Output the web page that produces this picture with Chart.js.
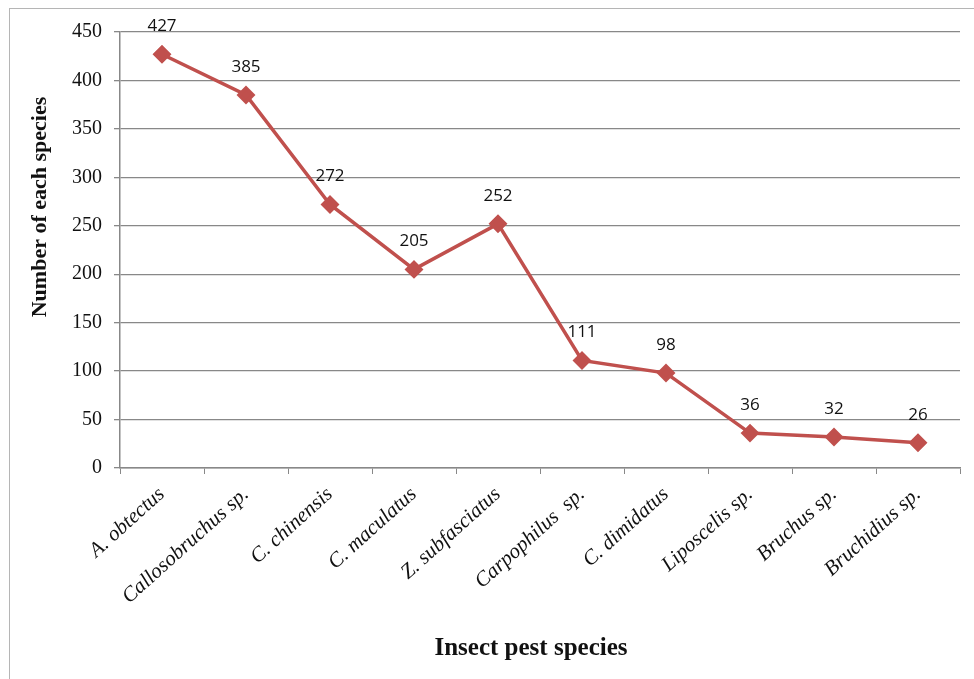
<!DOCTYPE html>
<html>
<head>
<meta charset="utf-8">
<script src="https://cdn.jsdelivr.net/npm/chart.js@4"></script>
<style>
    body { margin: 0; background: #fff; overflow: hidden; }
    .wrap { position: relative; width: 974px; height: 679px; }
    .frame { position: absolute; left: 9px; top: 8px; width: 980px; height: 700px; border: 1px solid #b5b5b5; }
    canvas { position: absolute; left: 0; top: 0; }
</style>
</head>
<body>
<div class="wrap">
    <div class="frame"></div>
    <canvas id="graph" width="974" height="679"></canvas>
</div>
<script>
// data
let species = ['A. obtectus', 'Callosobruchus sp.', 'C. chinensis', 'C. maculatus', 'Z. subfasciatus',
    'Carpophilus  sp.', 'C. dimidatus', 'Liposcelis sp.', 'Bruchus sp.', 'Bruchidius sp.']
let counts = [427, 385, 272, 205, 252, 111, 98, 36, 32, 26]
let yTicks = [0, 50, 100, 150, 200, 250, 300, 350, 400, 450]

let red = '#C0504D'

// value labels above each point + axis titles
let labelsPlugin = {
    id: 'labels',
    afterDatasetsDraw(chart) {
        let ctx = chart.ctx
        let meta = chart.getDatasetMeta(0)
        ctx.save()
        ctx.fillStyle = '#111'
        ctx.font = '17px "Open Sans"'
        ctx.textAlign = 'center'
        ctx.textBaseline = 'middle'
        meta.data.forEach(function(pt, i) {
            ctx.fillText(counts[i], pt.x, pt.y - 28)
        })

        ctx.font = 'bold 25px "Liberation Serif"'
        ctx.fillText('Insect pest species', 531, 649)

        ctx.font = 'bold 22px "Liberation Serif"'
        ctx.translate(40, 207)
        ctx.rotate(-Math.PI / 2)
        ctx.fillText('Number of each species', 0, 0)
        ctx.restore()
    }
}

new Chart(document.getElementById('graph').getContext('2d'), {
    type: 'line',
    data: {
        labels: species,
        datasets: [{
            data: counts,
            borderColor: red,
            backgroundColor: red,
            borderWidth: 3.5,
            pointStyle: 'rectRot',
            pointRadius: 7,
            pointHoverRadius: 7,
            tension: 0
        }]
    },
    options: {
        responsive: false,
        animation: false,
        layout: { padding: { left: 0, top: 32, right: 14, bottom: 0 } },
        plugins: {
            legend: { display: false },
            tooltip: { enabled: false }
        },
        scales: {
            x: {
                offset: true,
                grid: {
                    offset: true,
                    drawOnChartArea: false,
                    color: '#888',
                    tickLength: 6
                },
                border: { color: '#888', width: 1.5 },
                ticks: {
                    color: '#111',
                    font: { family: 'Liberation Serif', size: 21, style: 'italic' },
                    minRotation: 42,
                    maxRotation: 42,
                    padding: 8
                },
                afterFit(scale) { scale.height = 211 }
            },
            y: {
                min: 0,
                max: 450,
                afterBuildTicks(scale) { scale.ticks = yTicks.map(v => ({ value: v })) },
                grid: { color: '#888', lineWidth: 1.3, tickLength: 6 },
                border: { color: '#888', width: 1.5 },
                ticks: {
                    color: '#111',
                    font: { family: 'Liberation Serif', size: 20 },
                    padding: 12
                },
                afterFit(scale) { scale.width = 120 }
            }
        }
    },
    plugins: [labelsPlugin]
})
</script>
</body>
</html>
